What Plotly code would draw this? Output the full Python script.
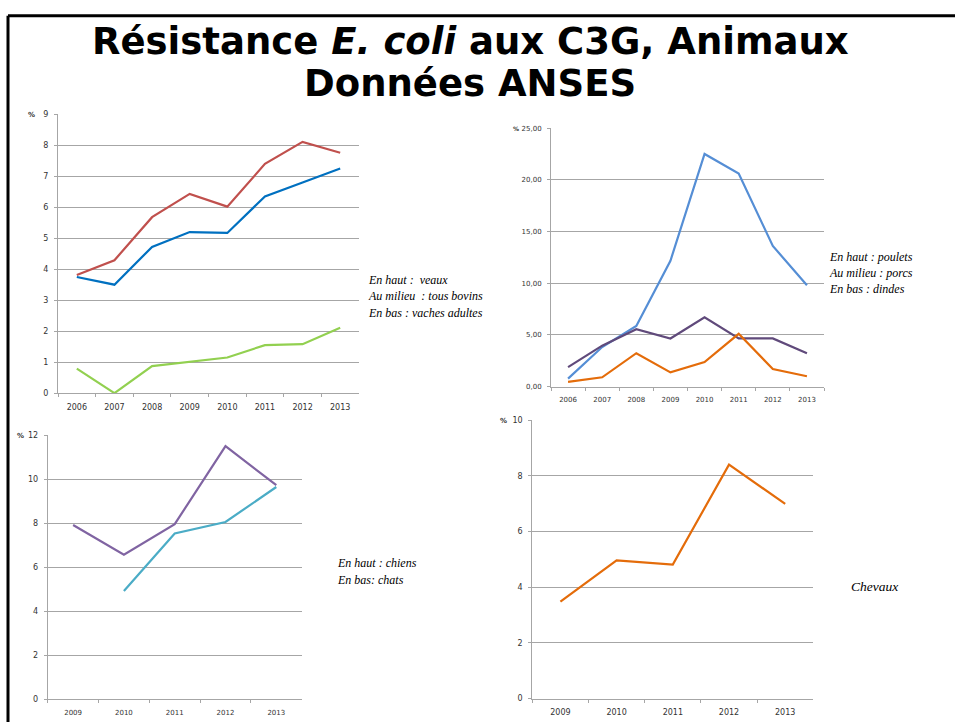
import plotly.graph_objects as go

W, H = 955, 727

# ---- data ----
years_a = ["2006", "2007", "2008", "2009", "2010", "2011", "2012", "2013"]
veaux = [3.81, 4.29, 5.68, 6.43, 6.02, 7.40, 8.11, 7.76]
tous_bovins = [3.75, 3.50, 4.72, 5.20, 5.17, 6.35, 6.80, 7.25]
vaches_adultes = [0.79, 0.0, 0.87, 1.02, 1.15, 1.55, 1.58, 2.11]

poulets = [0.76, 3.82, 5.86, 12.17, 22.5, 20.6, 13.6, 9.8]
porcs = [1.88, 3.95, 5.54, 4.65, 6.69, 4.65, 4.65, 3.22]
dindes = [0.45, 0.89, 3.22, 1.37, 2.36, 5.10, 1.69, 0.99]

years_b = ["2009", "2010", "2011", "2012", "2013"]
chiens = [7.92, 6.57, 7.96, 11.51, 9.73]
chats = [None, 4.92, 7.54, 8.06, 9.65]
chevaux = [3.48, 4.96, 4.81, 8.40, 6.99]

ticks_pct2 = [0, 5, 10, 15, 20, 25]
ticktext_pct2 = ["0,00", "5,00", "10,00", "15,00", "20,00", "25,00"]

# ---- geometry helpers (pixels -> paper) ----
def xd(x0, x1):
    return [x0 / W, x1 / W]

def yd(top, bottom):
    return [1 - bottom / H, 1 - top / H]

fig = go.Figure()

def add(x, y, color, xa, ya):
    fig.add_trace(go.Scatter(x=x, y=y, mode="lines", xaxis=xa, yaxis=ya,
                             line=dict(color=color, width=2.2),
                             connectgaps=False, showlegend=False, hoverinfo="skip"))

add(years_a, veaux, "#C0504D", "x", "y")
add(years_a, tous_bovins, "#0070C0", "x", "y")
add(years_a, vaches_adultes, "#92D050", "x", "y")

add(years_a, poulets, "#558ED5", "x2", "y2")
add(years_a, porcs, "#604A7B", "x2", "y2")
add(years_a, dindes, "#E46C0A", "x2", "y2")

add(years_b, chiens, "#8064A2", "x3", "y3")
add(years_b, chats, "#4BACC6", "x3", "y3")

add(years_b, chevaux, "#E46C0A", "x4", "y4")

grid = "#A6A6A6"
tickcol = "#333333"

def xaxis(dom, anchor, size, n):
    return dict(domain=dom, anchor=anchor, type="category", tickson="boundaries",
                range=[-0.5, n - 0.5],
                ticks="outside", ticklen=3, tickcolor=grid, showline=True,
                linecolor=grid, linewidth=1, showgrid=False, zeroline=False,
                ticklabelstandoff=6,
                tickfont=dict(family="DejaVu Sans", size=size, color=tickcol),
                fixedrange=True)

def yaxis(dom, anchor, rng, dtick, size, **kw):
    d = dict(domain=dom, anchor=anchor, range=rng, dtick=dtick,
             ticks="outside", ticklen=3, tickcolor=grid, showline=True,
             linecolor=grid, linewidth=1, showgrid=True, gridcolor=grid,
             gridwidth=1, zeroline=False, ticklabelstandoff=4,
             tickfont=dict(family="DejaVu Sans", size=size, color=tickcol),
             fixedrange=True)
    d.update(kw)
    return d

fig.update_layout(
    width=W, height=H,
    margin=dict(l=0, r=0, t=0, b=0),
    paper_bgcolor="white", plot_bgcolor="white",
    xaxis=xaxis(xd(58, 359), "y", 8, len(years_a)),
    yaxis=yaxis(yd(111.7, 394), "x", [0, 9], 1, 8),
    xaxis2=xaxis(xd(551, 824), "y2", 7, len(years_a)),
    yaxis2=yaxis(yd(125.7, 387.3), "x2", [0, 25], 5, 7,
                 tickmode="array", tickvals=ticks_pct2, ticktext=ticktext_pct2),
    xaxis3=xaxis(xd(47.7, 301.7), "y3", 7, len(years_b)),
    yaxis3=yaxis(yd(436.7, 704), "x3", [0, 12], 2, 8),
    xaxis4=xaxis(xd(532.3, 813.3), "y4", 8, len(years_b)),
    yaxis4=yaxis(yd(421.3, 703.3), "x4", [0, 10], 2, 8),
)

def ann(text, x, y, size, family="DejaVu Sans", xanchor="left", color="black", yanchor="middle"):
    fig.add_annotation(text=text, x=x / W, y=1 - y / H, xref="paper", yref="paper",
                       showarrow=False, xanchor=xanchor, yanchor=yanchor,
                       font=dict(family=family, size=size, color=color))

# title
ann("<b>Résistance <i>E. coli</i> aux C3G, Animaux</b>", 470, 38, 37, xanchor="center")
ann("<b>Données ANSES</b>", 470, 80, 37, xanchor="center")

# % labels
ann("<b>%</b>", 31, 112, 7, xanchor="center", color="#333333")
ann("<b>%</b>", 516, 126, 6, xanchor="center", color="#333333")
ann("<b>%</b>", 20, 437, 7, xanchor="center", color="#333333")
ann("<b>%</b>", 503, 422, 7, xanchor="center", color="#333333")

serif = "Liberation Serif"
ann("<i>En haut :  veaux</i>", 366, 279, 12, family=serif)
ann("<i>Au milieu  : tous bovins</i>", 366, 296, 12, family=serif)
ann("<i>En bas : vaches adultes</i>", 366, 313, 12, family=serif)

ann("<i>En haut : poulets</i>", 827, 256, 12, family=serif)
ann("<i>Au milieu : porcs</i>", 827, 272, 12, family=serif)
ann("<i>En bas : dindes</i>", 827, 289, 12, family=serif)

ann("<i>En haut : chiens</i>", 335, 566, 12, family=serif)
ann("<i>En bas: chats</i>", 335, 583, 12, family=serif)

ann("<i>Chevaux</i>", 849, 590, 13.5, family=serif)

# slide frame (left and top edges)
fig.add_shape(type="line", xref="paper", yref="paper",
              x0=8 / W, x1=1, y0=1 - 12 / H, y1=1 - 12 / H,
              line=dict(color="black", width=3))
fig.add_shape(type="line", xref="paper", yref="paper",
              x0=8 / W, x1=8 / W, y0=1 - 12 / H, y1=0,
              line=dict(color="black", width=3))

fig.write_html(
    "out.html",
    config={"displayModeBar": False},
    post_script="document.body.style.margin='0';document.body.style.overflow='hidden';",
)
